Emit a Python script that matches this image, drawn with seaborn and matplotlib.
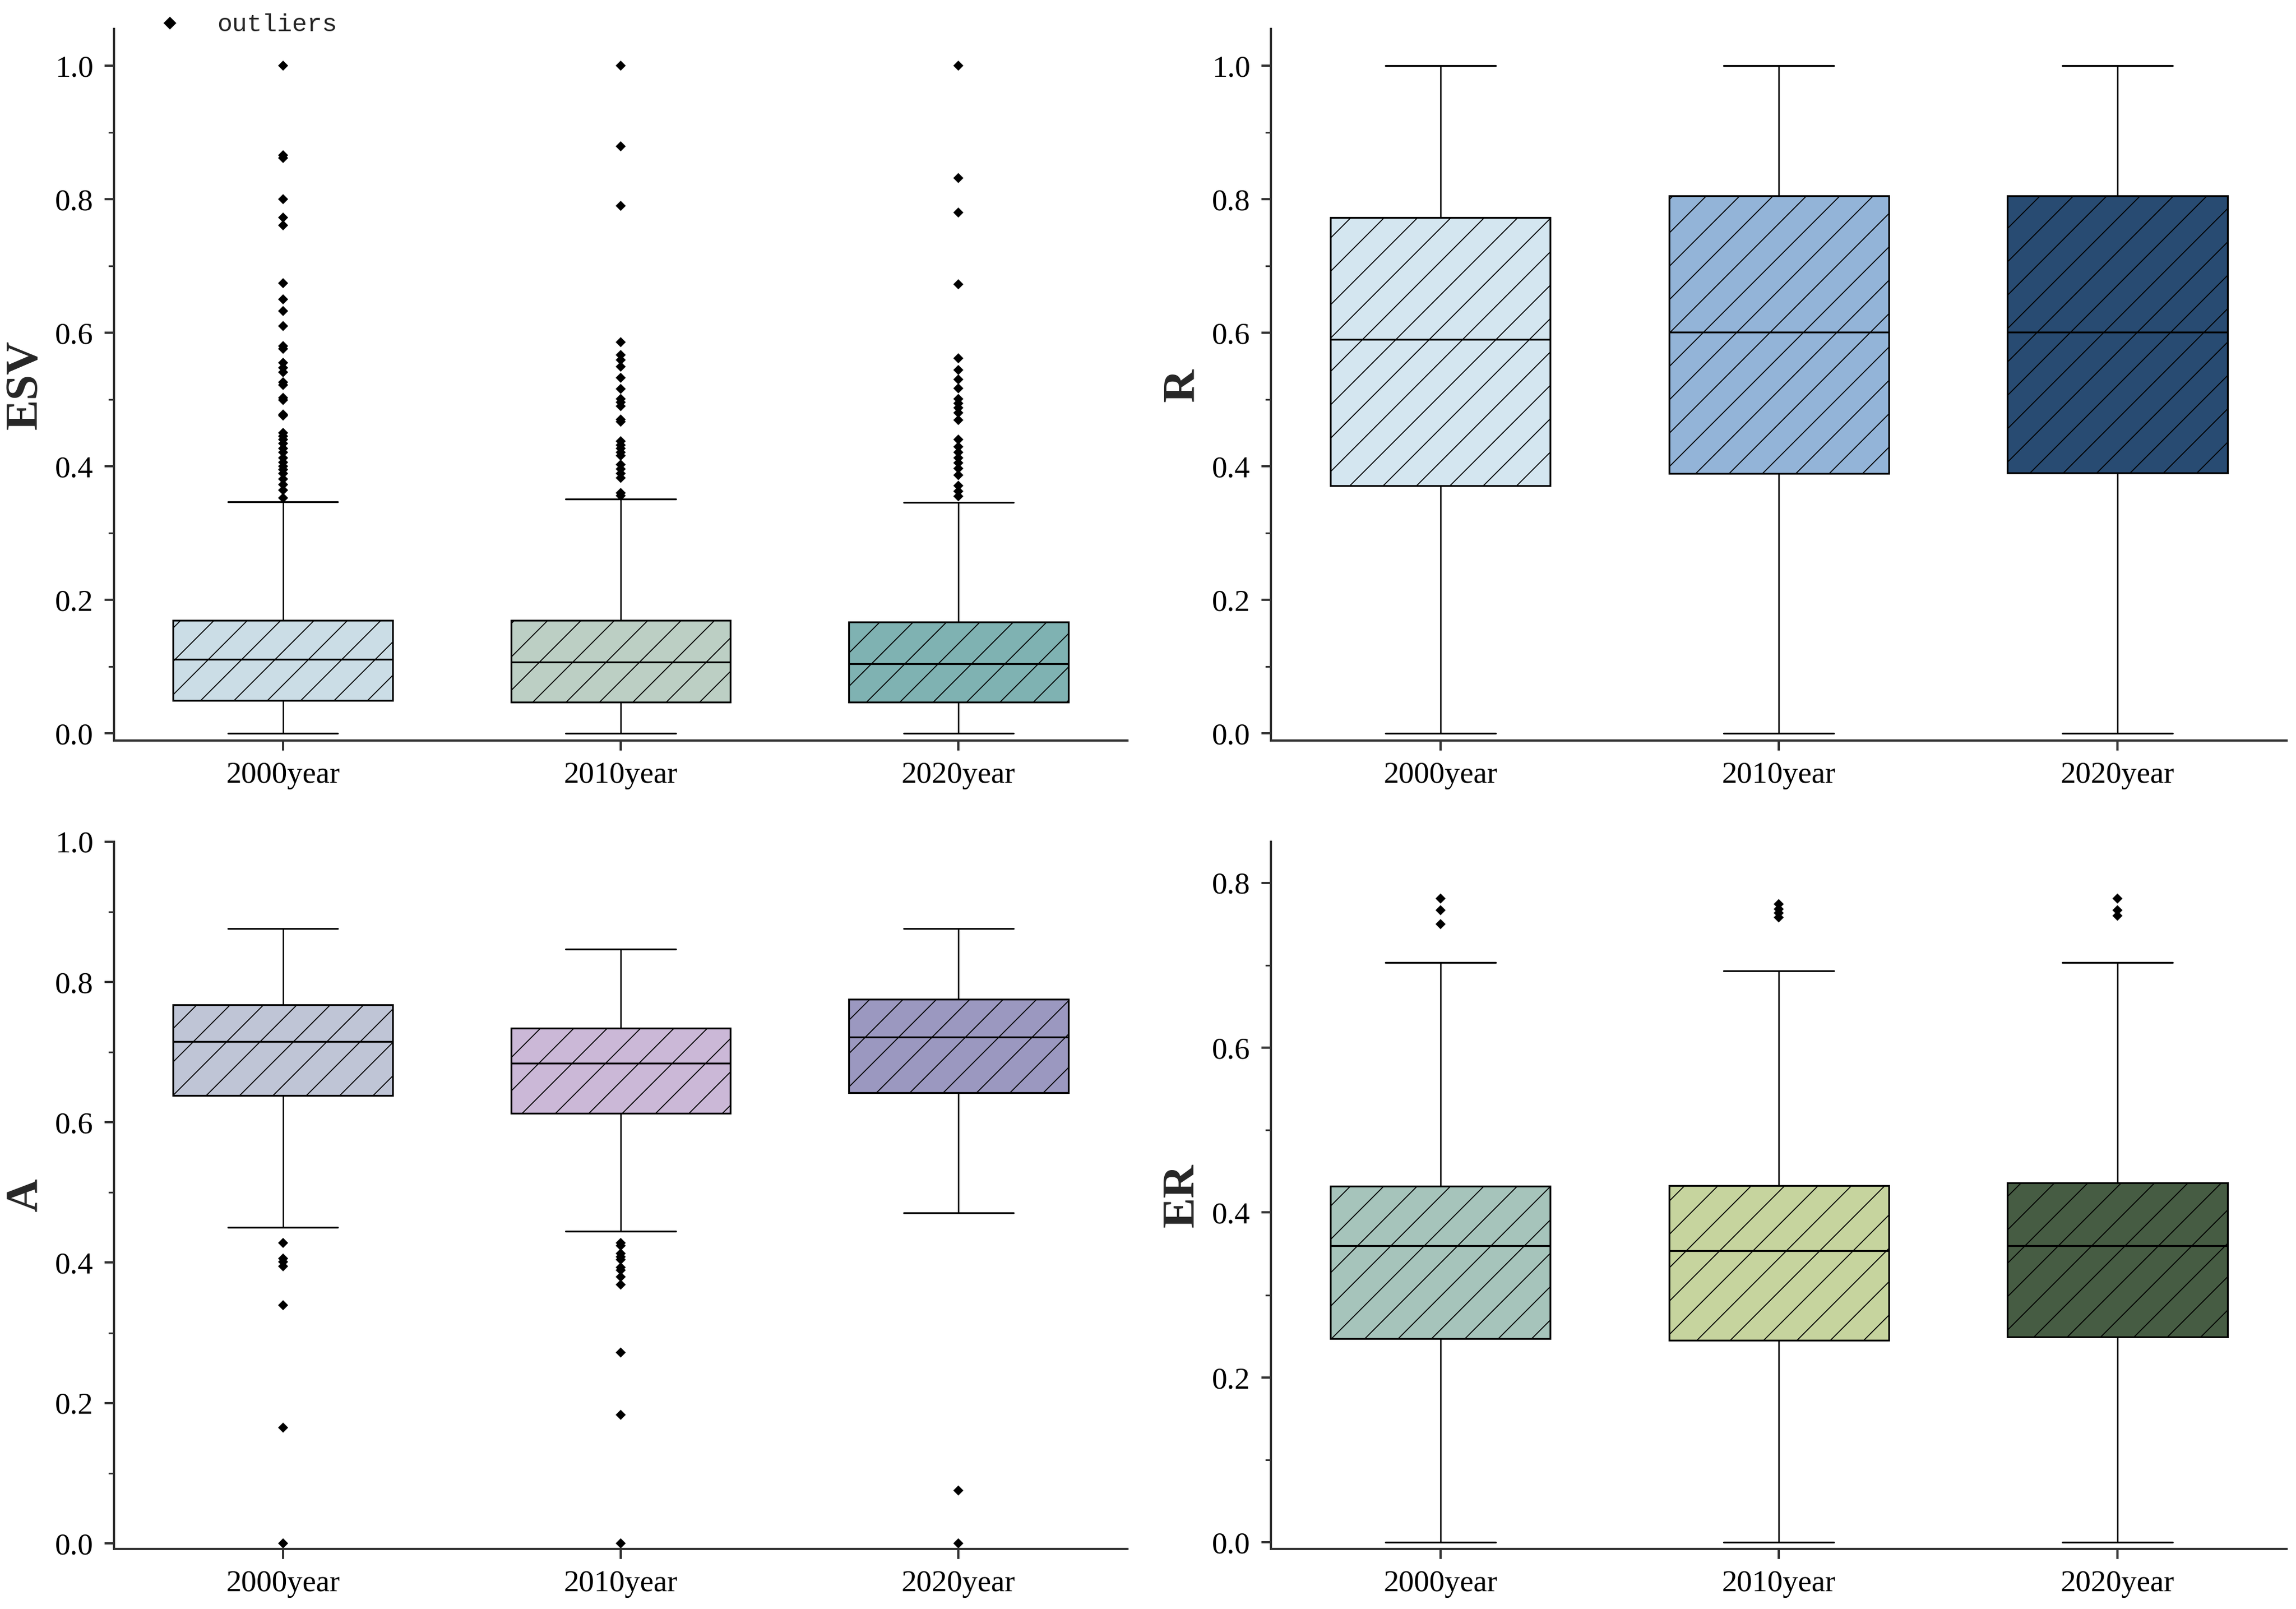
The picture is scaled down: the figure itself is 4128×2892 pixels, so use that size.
import numpy as np
import pandas as pd
import seaborn as sns
import matplotlib.pyplot as plt
from matplotlib.lines import Line2D
from matplotlib.ticker import MultipleLocator, AutoMinorLocator, FormatStrFormatter

# categories
years = ["2000year", "2010year", "2020year"]

# ESV box statistics
esv_low = [0.0, 0.0, 0.0]
esv_q1 = [0.049, 0.047, 0.047]
esv_med = [0.111, 0.107, 0.104]
esv_q3 = [0.169, 0.169, 0.167]
esv_high = [0.347, 0.351, 0.346]
esv_out = [
    [1.0, 0.866, 0.862, 0.8, 0.773, 0.761, 0.674, 0.650, 0.633, 0.610, 0.580, 0.576,
     0.555, 0.548, 0.541, 0.526, 0.522, 0.503, 0.499, 0.478, 0.476, 0.450, 0.445,
     0.440, 0.434, 0.427, 0.421, 0.413, 0.406, 0.400, 0.395, 0.389, 0.381, 0.373,
     0.364, 0.353],
    [1.0, 0.879, 0.790, 0.586, 0.567, 0.559, 0.549, 0.533, 0.516, 0.501, 0.496, 0.490,
     0.470, 0.467, 0.438, 0.432, 0.427, 0.421, 0.416, 0.403, 0.396, 0.389, 0.383,
     0.360, 0.356],
    [1.0, 0.832, 0.780, 0.673, 0.562, 0.544, 0.530, 0.517, 0.501, 0.494, 0.488, 0.480,
     0.469, 0.440, 0.429, 0.421, 0.413, 0.405, 0.397, 0.387, 0.371, 0.363, 0.355],
]

# R
r_low = [0.0, 0.0, 0.0]
r_q1 = [0.371, 0.389, 0.390]
r_med = [0.590, 0.601, 0.601]
r_q3 = [0.773, 0.805, 0.805]
r_high = [1.0, 1.0, 1.0]
r_out = [[], [], []]

# A
a_low = [0.450, 0.445, 0.471]
a_q1 = [0.638, 0.613, 0.642]
a_med = [0.715, 0.684, 0.721]
a_q3 = [0.767, 0.734, 0.775]
a_high = [0.876, 0.847, 0.876]
a_out = [
    [0.428, 0.406, 0.401, 0.395, 0.339, 0.165, 0.0],
    [0.428, 0.424, 0.413, 0.408, 0.404, 0.393, 0.389, 0.380, 0.369, 0.272, 0.183, 0.0],
    [0.075, 0.0],
]

# ER
er_low = [0.0, 0.0, 0.0]
er_q1 = [0.247, 0.245, 0.249]
er_med = [0.360, 0.354, 0.360]
er_q3 = [0.432, 0.433, 0.436]
er_high = [0.703, 0.693, 0.703]
er_out = [[0.781, 0.767, 0.750], [0.774, 0.768, 0.763, 0.758], [0.781, 0.767, 0.760]]

esv_colors = ["#cbdde6", "#bccfc4", "#7fb2b2"]
r_colors = ["#d4e6f0", "#93b4d8", "#284b72"]
a_colors = ["#bfc5d6", "#cbb8d7", "#9b98c0"]
er_colors = ["#a6c4bb", "#c6d49e", "#465c43"]


def sample_from_stats(lo, q1, med, q3, hi, out):
    # values whose quartiles / whiskers / fliers equal the given summary
    low = sorted(v for v in out if v < q1)
    high = sorted(v for v in out if v > q3)
    n_lo = len(low) + 1
    n_hi = len(high) + 1
    m = max(n_lo, n_hi)
    vals = (low + [lo] + [q1] * (m - n_lo + 1) + [med] * m + [q3] * m
            + [q3] * (m - n_hi) + [hi] + high)
    return vals


def make_frame(lo, q1, med, q3, hi, out):
    rows = []
    for i, yr in enumerate(years):
        for v in sample_from_stats(lo[i], q1[i], med[i], q3[i], hi[i], out[i]):
            rows.append((yr, v))
    return pd.DataFrame(rows, columns=["year", "value"])


sns.set_style("ticks")
plt.rcParams["font.family"] = ["Liberation Serif", "DejaVu Serif"]
plt.rcParams["hatch.linewidth"] = 0.35
plt.rcParams["hatch.color"] = "black"

fig = plt.figure(figsize=(4128 / 360, 2892 / 360), dpi=360)

panels = [
    ("ESV", make_frame(esv_low, esv_q1, esv_med, esv_q3, esv_high, esv_out), esv_colors,
     [0.0497, 0.5396, 0.4413, 0.4424], (-0.011, 1.055)),
    ("R", make_frame(r_low, r_q1, r_med, r_q3, r_high, r_out), r_colors,
     [0.5536, 0.5396, 0.4424, 0.4424], (-0.011, 1.055)),
    ("A", make_frame(a_low, a_q1, a_med, a_q3, a_high, a_out), a_colors,
     [0.0497, 0.0373, 0.4413, 0.4397], (-0.008, 1.0)),
    ("ER", make_frame(er_low, er_q1, er_med, er_q3, er_high, er_out), er_colors,
     [0.5536, 0.0373, 0.4424, 0.4397], (-0.008, 0.85)),
]

flier_kw = dict(marker="D", markerfacecolor="black", markeredgecolor="black",
                markersize=2.3, markeredgewidth=0.3)

for label, df, cols, rect, ylim in panels:
    ax = fig.add_axes(rect)
    sns.boxplot(data=df, x="year", y="value", hue="year", order=years,
                hue_order=years, palette=cols, legend=False, width=0.65,
                saturation=1, linecolor="black", linewidth=0.65, whis=1.5,
                flierprops=flier_kw, whiskerprops={"linewidth": 0.5},
                ax=ax)
    for p in ax.patches:
        p.set_hatch("//")
    ax.set_xlim(-0.5, 2.5)
    ax.set_ylim(*ylim)
    ax.yaxis.set_major_locator(MultipleLocator(0.2))
    ax.yaxis.set_minor_locator(AutoMinorLocator(2))
    ax.yaxis.set_major_formatter(FormatStrFormatter("%.1f"))
    ax.set_xlabel("")
    ax.set_ylabel(label, fontsize=16.5, fontweight="bold", labelpad=3)
    sns.despine(ax=ax)
    for s in ["left", "bottom"]:
        ax.spines[s].set_linewidth(0.8)
        ax.spines[s].set_color("#333333")
    ax.tick_params(axis="both", which="major", direction="out", length=3.5,
                   width=0.8, pad=4, labelsize=11, colors="#333333",
                   labelcolor="black")
    ax.tick_params(axis="y", which="minor", direction="out", length=2,
                   width=0.6, colors="#333333")

handle = Line2D([], [], linestyle="none", marker="D", markerfacecolor="black",
                markeredgecolor="black", markersize=2.3)
fig.legend([handle], ["outliers"], loc="center left",
           bbox_to_anchor=(282 / 4128, 1 - 45 / 2892), frameon=False,
           handlelength=1.0, handletextpad=1.4, borderpad=0, borderaxespad=0,
           prop={"family": "Liberation Mono", "size": 9})

fig.savefig("out.png", dpi=360)
